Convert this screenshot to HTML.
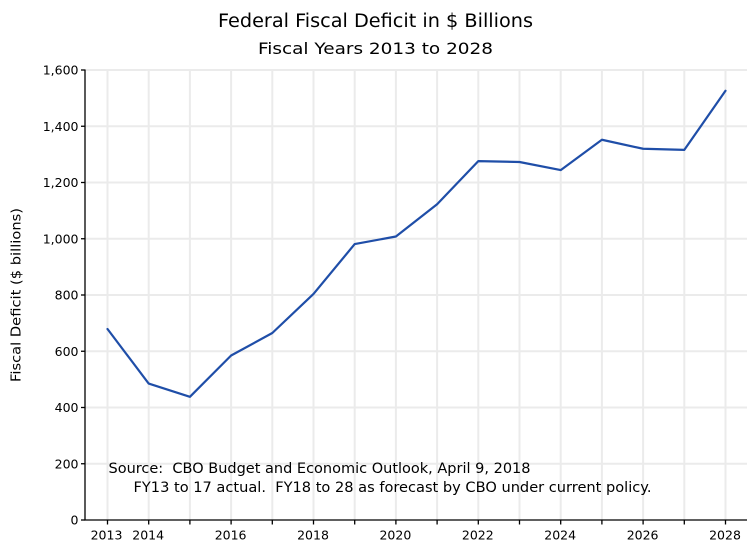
<!DOCTYPE html>
<html>
<head>
<meta charset="utf-8">
<style>
  html, body { margin: 0; padding: 0; background: #ffffff; }
  svg { display: block; }
  text { font-family: "DejaVu Sans", "Liberation Sans", sans-serif; fill: #000; }
</style>
</head>
<body>
<svg width="753" height="548" viewBox="0 0 753 548" xmlns="http://www.w3.org/2000/svg">
  <rect x="0" y="0" width="753" height="548" fill="#ffffff"/>

  <!-- Titles -->
  <text x="375.5" y="27" font-size="18.5" text-anchor="middle" textLength="315" lengthAdjust="spacingAndGlyphs">Federal Fiscal Deficit in $ Billions</text>
  <text x="375.5" y="54" font-size="16" text-anchor="middle" textLength="235" lengthAdjust="spacingAndGlyphs">Fiscal Years 2013 to 2028</text>

  <!-- Gridlines -->
  <g stroke="#ebebeb" stroke-width="2">
    <line x1="85" y1="70" x2="747" y2="70"/>
    <line x1="85" y1="126.25" x2="747" y2="126.25"/>
    <line x1="85" y1="182.5" x2="747" y2="182.5"/>
    <line x1="85" y1="238.75" x2="747" y2="238.75"/>
    <line x1="85" y1="295" x2="747" y2="295"/>
    <line x1="85" y1="351.25" x2="747" y2="351.25"/>
    <line x1="85" y1="407.5" x2="747" y2="407.5"/>
    <line x1="85" y1="463.75" x2="747" y2="463.75"/>

    <line x1="107.5" y1="70" x2="107.5" y2="520"/>
    <line x1="148.7" y1="70" x2="148.7" y2="520"/>
    <line x1="189.9" y1="70" x2="189.9" y2="520"/>
    <line x1="231.1" y1="70" x2="231.1" y2="520"/>
    <line x1="272.3" y1="70" x2="272.3" y2="520"/>
    <line x1="313.5" y1="70" x2="313.5" y2="520"/>
    <line x1="354.7" y1="70" x2="354.7" y2="520"/>
    <line x1="395.9" y1="70" x2="395.9" y2="520"/>
    <line x1="437.1" y1="70" x2="437.1" y2="520"/>
    <line x1="478.3" y1="70" x2="478.3" y2="520"/>
    <line x1="519.5" y1="70" x2="519.5" y2="520"/>
    <line x1="560.7" y1="70" x2="560.7" y2="520"/>
    <line x1="601.9" y1="70" x2="601.9" y2="520"/>
    <line x1="643.1" y1="70" x2="643.1" y2="520"/>
    <line x1="684.3" y1="70" x2="684.3" y2="520"/>
    <line x1="725.5" y1="70" x2="725.5" y2="520"/>
  </g>

  <!-- Axes -->
  <g stroke="#000" stroke-width="1.3">
    <line x1="85" y1="69.5" x2="85" y2="520.5"/>
    <line x1="84.5" y1="520" x2="747" y2="520"/>
    <!-- y ticks -->
    <line x1="81" y1="70" x2="85" y2="70"/>
    <line x1="81" y1="126.25" x2="85" y2="126.25"/>
    <line x1="81" y1="182.5" x2="85" y2="182.5"/>
    <line x1="81" y1="238.75" x2="85" y2="238.75"/>
    <line x1="81" y1="295" x2="85" y2="295"/>
    <line x1="81" y1="351.25" x2="85" y2="351.25"/>
    <line x1="81" y1="407.5" x2="85" y2="407.5"/>
    <line x1="81" y1="463.75" x2="85" y2="463.75"/>
    <line x1="81" y1="520" x2="85" y2="520"/>
    <!-- x ticks -->
    <line x1="107.5" y1="520" x2="107.5" y2="524.5"/>
    <line x1="148.7" y1="520" x2="148.7" y2="524.5"/>
    <line x1="189.9" y1="520" x2="189.9" y2="524.5"/>
    <line x1="231.1" y1="520" x2="231.1" y2="524.5"/>
    <line x1="272.3" y1="520" x2="272.3" y2="524.5"/>
    <line x1="313.5" y1="520" x2="313.5" y2="524.5"/>
    <line x1="354.7" y1="520" x2="354.7" y2="524.5"/>
    <line x1="395.9" y1="520" x2="395.9" y2="524.5"/>
    <line x1="437.1" y1="520" x2="437.1" y2="524.5"/>
    <line x1="478.3" y1="520" x2="478.3" y2="524.5"/>
    <line x1="519.5" y1="520" x2="519.5" y2="524.5"/>
    <line x1="560.7" y1="520" x2="560.7" y2="524.5"/>
    <line x1="601.9" y1="520" x2="601.9" y2="524.5"/>
    <line x1="643.1" y1="520" x2="643.1" y2="524.5"/>
    <line x1="684.3" y1="520" x2="684.3" y2="524.5"/>
    <line x1="725.5" y1="520" x2="725.5" y2="524.5"/>
  </g>

  <!-- Y tick labels -->
  <g font-size="12.5" text-anchor="end">
    <text x="78.5" y="74.5">1,600</text>
    <text x="78.5" y="130.75">1,400</text>
    <text x="78.5" y="187">1,200</text>
    <text x="78.5" y="243.25">1,000</text>
    <text x="78.5" y="299.5">800</text>
    <text x="78.5" y="355.75">600</text>
    <text x="78.5" y="412">400</text>
    <text x="78.5" y="468.25">200</text>
    <text x="78.5" y="524.5">0</text>
  </g>

  <!-- X tick labels -->
  <g font-size="12.5" text-anchor="middle">
    <text x="106.5" y="539.5">2013</text>
    <text x="148.2" y="539.5">2014</text>
    <text x="230.6" y="539.5">2016</text>
    <text x="313" y="539.5">2018</text>
    <text x="395.4" y="539.5">2020</text>
    <text x="477.8" y="539.5">2022</text>
    <text x="560.2" y="539.5">2024</text>
    <text x="642.6" y="539.5">2026</text>
    <text x="725" y="539.5">2028</text>
  </g>

  <!-- Y axis label -->
  <text transform="translate(20.5,295) rotate(-90)" font-size="13" text-anchor="middle" textLength="174" lengthAdjust="spacingAndGlyphs">Fiscal Deficit ($ billions)</text>

  <!-- Data series -->
  <polyline fill="none" stroke="#1f4ea8" stroke-width="2.2" stroke-linejoin="round" stroke-linecap="round"
    points="107.5,329.0 148.7,383.6 189.9,396.8 231.1,355.5 272.3,333.0 313.5,293.9 354.7,244.1 395.9,236.5 437.1,204.2 478.3,161.1 519.5,162.0 560.7,170.1 601.9,139.75 643.1,148.75 684.3,149.9 725.5,90.8"/>

  <!-- Source note -->
  <text x="108.5" y="473" font-size="14" textLength="422" lengthAdjust="spacingAndGlyphs" xml:space="preserve">Source:  CBO Budget and Economic Outlook, April 9, 2018</text>
  <text x="133.5" y="492" font-size="14" textLength="518" lengthAdjust="spacingAndGlyphs" xml:space="preserve">FY13 to 17 actual.  FY18 to 28 as forecast by CBO under current policy.</text>
</svg>
</body>
</html>
